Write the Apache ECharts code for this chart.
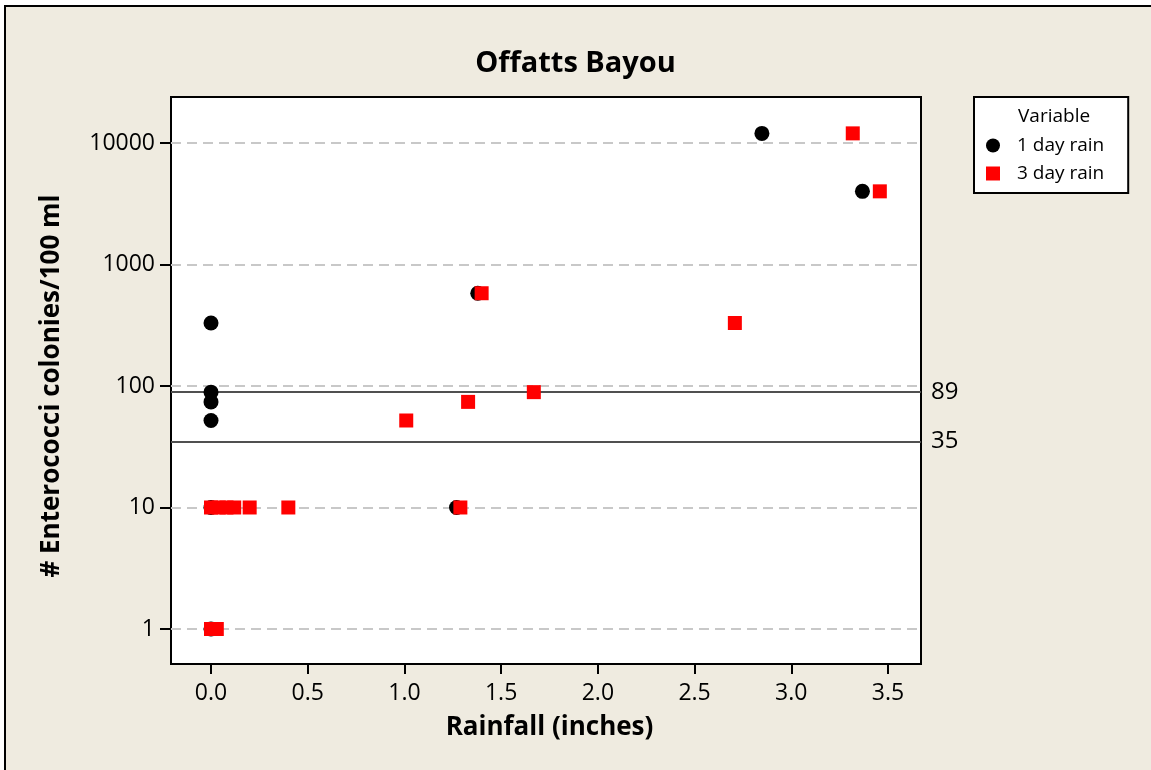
<!DOCTYPE html>
<html>
<head>
<meta charset="utf-8">
<script src="https://cdn.jsdelivr.net/npm/echarts@6/dist/echarts.min.js"></script>
<style>
  html, body { margin: 0; padding: 0; background: #fff; }
  body { width: 1151px; height: 770px; overflow: hidden; position: relative; }
  .frame {
    position: absolute; left: 4px; top: 5px; width: 1170px; height: 790px;
    background: #efebe0; border: 2px solid #000;
  }
  #chart { position: absolute; left: 0; top: 0; width: 1151px; height: 770px; }
</style>
</head>
<body>
<div class="frame"></div>
<div id="chart"></div>
<script>
// rainfall (inches) vs colonies / 100 ml
const oneDayRain = [
  [0, 330], [0, 89], [0, 74], [0, 52], [0, 10], [0, 1],
  [1.27, 10], [1.38, 580], [2.85, 12000], [3.37, 4000]
]
const threeDayRain = [
  [0, 10], [0.04, 10], [0.08, 10], [0.12, 10], [0.2, 10], [0.4, 10],
  [0, 1], [0.03, 1],
  [1.01, 52], [1.29, 10], [1.33, 74], [1.4, 580], [1.67, 89],
  [2.71, 330], [3.32, 12000], [3.46, 4000]
]
const gridValues = [1, 10, 100, 1000, 10000]
const refLines = [89, 35]
const seriesNames = ['1 day rain', '3 day rain']

const FONT = "'Open Sans', 'Noto Sans', sans-serif"

const chart = echarts.init(document.getElementById('chart'))

const markData = [
  ...gridValues.map(v => ({
    yAxis: v,
    lineStyle: { type: [10, 6], color: '#c8c8c8', width: 2 },
    label: { show: false }
  })),
  ...refLines.map(v => ({
    yAxis: v,
    lineStyle: { type: 'solid', color: '#505050', width: 2 },
    label: {
      show: true, position: 'end', distance: 10, formatter: String(v),
      fontFamily: FONT, fontSize: 24, color: '#000'
    }
  }))
]

const option = {
  animation: false,
  backgroundColor: 'transparent',
  graphic: [
    {
      type: 'text', z: 100, left: 1018, top: 107,
      style: { text: 'Variable', font: '19px ' + FONT, fill: '#000' }
    }
  ],
  title: {
    text: 'Offatts Bayou', left: 'center', top: 44,
    textStyle: { fontFamily: FONT, fontSize: 29, fontWeight: 'bold', color: '#000' }
  },
  legend: {
    orient: 'vertical', left: 974, top: 97,
    padding: [39, 24, 10, 12], itemGap: 9, itemWidth: 14, itemHeight: 14,
    backgroundColor: '#fff', borderColor: '#000', borderWidth: 2,
    data: [
      { name: seriesNames[0], icon: 'circle' },
      { name: seriesNames[1], icon: 'rect' }
    ],
    textStyle: { fontFamily: FONT, fontSize: 19, color: '#000', padding: [0, 0, 0, 12] }
  },
  grid: [
    // plot box (data)
    { left: 171, top: 97, width: 750, height: 567, show: true,
      backgroundColor: '#fff', borderColor: '#000', borderWidth: 2 },
    // x ticks: 0.0 .. 3.5
    { left: 211, top: 97, width: 677, height: 567 },
    // y ticks: 1 .. 10000
    { left: 171, top: 143, width: 750, height: 486 }
  ],
  xAxis: [
    { gridIndex: 0, type: 'value', min: -0.207, max: 3.673, show: false },
    {
      gridIndex: 1, type: 'value', min: 0, max: 3.5, interval: 0.5,
      axisLine: { show: true, lineStyle: { color: '#000', width: 2 } },
      axisTick: { show: true, length: 10, lineStyle: { color: '#000', width: 2 } },
      splitLine: { show: false },
      axisLabel: {
        margin: 18, fontFamily: FONT, fontSize: 23, color: '#000',
        formatter: v => v.toFixed(1)
      },
      name: 'Rainfall (inches)', nameLocation: 'middle', nameGap: 51,
      nameTextStyle: { fontFamily: FONT, fontSize: 26, fontWeight: 'bold', color: '#000' }
    },
    { gridIndex: 2, type: 'value', min: 0, max: 1, show: false }
  ],
  yAxis: [
    { gridIndex: 0, type: 'log', min: 0.515, max: 23910, show: false },
    { gridIndex: 1, type: 'value', min: 0, max: 1, show: false },
    {
      gridIndex: 2, type: 'log', min: 1, max: 10000,
      axisLine: { show: true, lineStyle: { color: '#000', width: 2 } },
      axisTick: { show: true, length: 11, lineStyle: { color: '#000', width: 2 } },
      splitLine: { show: false },
      axisLabel: {
        margin: 16, fontFamily: FONT, fontSize: 23, color: '#000',
        formatter: v => String(Math.round(v))
      },
      name: '# Enterococci colonies/100 ml', nameLocation: 'middle', nameGap: 106,
      nameTextStyle: { fontFamily: FONT, fontSize: 26, fontWeight: 'bold', color: '#000' }
    }
  ],
  series: [
    {
      name: seriesNames[0], type: 'scatter', xAxisIndex: 0, yAxisIndex: 0,
      symbol: 'circle', symbolSize: 15, itemStyle: { color: '#000', opacity: 1 },
      data: oneDayRain,
      markLine: { silent: true, symbol: 'none', z: 1, animation: false, data: markData }
    },
    {
      name: seriesNames[1], type: 'scatter', xAxisIndex: 0, yAxisIndex: 0,
      symbol: 'rect', symbolSize: 14, itemStyle: { color: '#ff0000', opacity: 1 },
      data: threeDayRain
    }
  ]
}

chart.setOption(option)
</script>
</body>
</html>
